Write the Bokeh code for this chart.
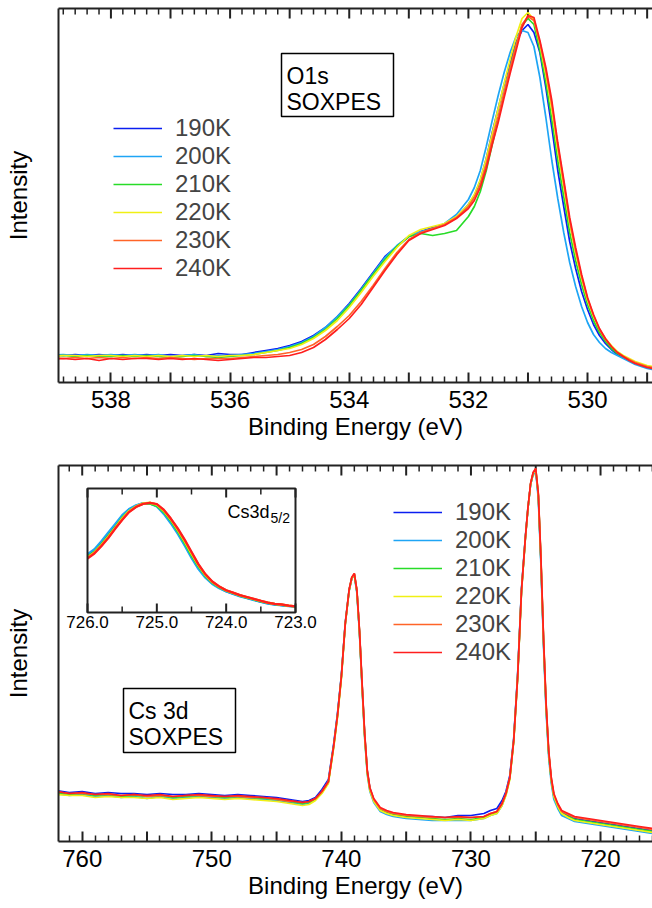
from bokeh.plotting import figure
from bokeh.models import (Range1d, LinearAxis, FixedTicker, Legend, LegendItem)
from bokeh.layouts import column
from bokeh.embed import file_html
from bokeh.resources import INLINE
from bokeh.core.properties import value

FONT = "Liberation Sans"

# ---------------- data ----------------
TEMPS = ["190K", "200K", "210K", "220K", "230K", "240K"]
COLORS = ["#0a1ef0", "#1ea5f5", "#28dc28", "#f0f014", "#ff6428", "#ff1e1e"]

# O 1s SOXPES (binding energy, eV) and intensities (arb. units)
O1S_E = [539.0, 538.8, 538.6, 538.4, 538.2, 538.0, 537.8, 537.6, 537.4, 537.2, 537.0,
         536.8, 536.6, 536.4, 536.2, 536.0, 535.8, 535.6, 535.4, 535.2, 535.0,
         534.8, 534.6, 534.4, 534.2, 534.0, 533.8, 533.6, 533.4, 533.2, 533.0,
         532.8, 532.6, 532.4, 532.2, 532.0,
         531.9, 531.8, 531.7, 531.6, 531.5, 531.4, 531.3, 531.2, 531.1, 531.0,
         530.9, 530.8, 530.7, 530.6, 530.5, 530.4, 530.3, 530.2, 530.1, 530.0,
         529.9, 529.8, 529.7, 529.6, 529.5, 529.4, 529.3, 529.2, 529.1, 529.0, 528.8]
O1S_190 = [28, 27, 28, 27, 28, 27, 28, 27, 28, 27, 28, 27, 28, 27, 29, 28, 28, 30, 32, 34, 37,
           41, 47, 55, 66, 79, 94, 110, 126, 136, 146, 151, 155, 158, 165, 178,
           187, 202, 224, 250, 274, 298, 320, 340, 352, 358, 350, 330, 295, 255, 212, 176, 141, 114, 91, 73,
           58, 47, 39, 33, 28, 25, 22, 19, 17, 15, 13]
O1S_200 = [27, 28, 27, 28, 27, 28, 27, 28, 27, 28, 26, 27, 28, 26, 27, 27, 28, 29, 31, 33, 36,
           40, 46, 55, 66, 78, 93, 109, 125, 137, 146, 151, 154, 159, 168, 183,
           195, 212, 236, 262, 287, 310, 330, 346, 352, 350, 336, 305, 265, 222, 184, 150, 120, 96, 76, 60,
           48, 40, 34, 30, 27, 24, 21, 18, 16, 14, 12]
O1S_210 = [26, 27, 26, 27, 26, 26, 27, 26, 27, 26, 25, 26, 27, 26, 25, 26, 27, 28, 30, 32, 35,
           39, 45, 53, 64, 77, 92, 108, 123, 136, 146, 149, 147, 149, 152, 166,
           176, 191, 212, 238, 263, 289, 314, 338, 357, 364, 358, 332, 300, 263, 222, 186, 150, 122, 98, 78,
           62, 50, 41, 34, 29, 26, 23, 20, 18, 16, 14]
O1S_220 = [26, 27, 27, 26, 27, 27, 26, 27, 26, 27, 26, 27, 26, 27, 26, 27, 27, 28, 30, 32, 34,
           38, 44, 52, 62, 75, 90, 106, 121, 135, 147, 153, 156, 159, 166, 178,
           188, 203, 224, 249, 274, 299, 323, 346, 364, 370, 363, 338, 308, 273, 232, 196, 159, 129, 104, 82,
           66, 53, 44, 37, 31, 27, 24, 21, 19, 17, 15]
O1S_230 = [25, 24, 25, 24, 25, 24, 25, 24, 25, 24, 25, 24, 23, 24, 24, 24, 25, 26, 27, 28, 30,
           33, 38, 46, 56, 67, 81, 97, 114, 130, 143, 150, 154, 158, 165, 176,
           185, 198, 218, 243, 266, 290, 314, 337, 358, 366, 362, 340, 312, 278, 237, 200, 162, 132, 106, 84,
           67, 53, 43, 36, 30, 26, 23, 20, 18, 16, 14]
O1S_240 = [23, 24, 23, 24, 22, 24, 23, 24, 24, 23, 24, 23, 24, 23, 22, 23, 24, 25, 25, 26, 27,
           30, 35, 43, 53, 64, 78, 95, 112, 128, 142, 149, 153, 157, 164, 174,
           182, 195, 214, 238, 260, 285, 309, 332, 355, 367, 365, 342, 315, 282, 240, 203, 165, 135, 108, 85,
           68, 54, 44, 36, 30, 26, 22, 19, 17, 15, 13]
O1S_SERIES = [O1S_190, O1S_200, O1S_210, O1S_220, O1S_230, O1S_240]

# O 1s axis ticks
O1S_TICK_LABELED = [530, 532, 534, 536, 538]
O1S_TICK_MAJOR = [529, 530, 531, 532, 533, 534, 535, 536, 537, 538]
O1S_TICK_MINOR = [t / 10 for t in range(5290, 5390, 2) if t % 10]

# Cs 3d SOXPES
CS_E = [762, 761, 760, 759, 758, 757, 756, 755, 754, 753, 752, 751, 750, 749, 748, 747, 746, 745, 744,
        743.5, 743, 742.5, 742, 741.5, 741,
        740.6, 740.3, 740.0, 739.7, 739.4, 739.2, 739.0, 738.8, 738.6, 738.4, 738.2, 738.0, 737.8,
        737.5, 737.0, 736.5,
        736, 735, 734, 733, 732, 731, 730, 729,
        728.5, 728, 727.6, 727.3, 727.0, 726.7, 726.4, 726.1, 725.8, 725.6, 725.4, 725.2, 725.0,
        724.8, 724.6, 724.4, 724.2, 724.0, 723.8, 723.6, 723.3, 723.0,
        722.5, 722, 721, 720, 719, 718, 717, 716]
CS_190 = [51, 49, 50, 48, 49, 48, 48, 47, 48, 47, 47, 48, 47, 46, 47, 46, 45, 44, 42,
          41, 40, 41, 44, 52, 62,
          97, 128, 166, 218, 251, 263, 267, 250, 209, 156, 106, 70, 53, 42, 33, 30,
          28, 26, 25, 25, 24, 26, 26, 28,
          31, 33, 41, 50, 66, 103, 166, 252, 304, 333, 357, 368, 371, 345, 280, 200, 134, 88, 61, 46, 36, 29,
          26, 23, 21, 19, 17, 15, 13, 11]
CS_200 = [48, 46, 47, 45, 46, 44, 45, 43, 45, 43, 44, 45, 44, 43, 44, 43, 42, 41, 39,
          38, 37, 38, 42, 49, 60,
          96, 127, 166, 219, 252, 263, 266, 248, 207, 153, 103, 67, 50, 39, 30, 27,
          25, 23, 22, 21, 21, 21, 21, 23,
          26, 28, 36, 47, 64, 102, 166, 253, 305, 334, 357, 367, 370, 342, 276, 196, 130, 84, 58, 42, 33, 26,
          23, 20, 18, 16, 14, 12, 10, 8]
CS_210 = [49, 47, 48, 46, 47, 45, 46, 45, 46, 44, 45, 46, 45, 44, 45, 44, 43, 42, 40,
          39, 38, 39, 42, 49, 59,
          94, 125, 164, 217, 251, 263, 267, 250, 209, 156, 106, 69, 52, 41, 32, 29,
          27, 25, 24, 23, 22, 23, 22, 24,
          27, 29, 37, 47, 63, 100, 163, 250, 303, 333, 357, 368, 372, 346, 281, 201, 135, 88, 61, 45, 35, 28,
          25, 22, 20, 18, 16, 14, 12, 10]
CS_220 = [47, 46, 46, 44, 45, 44, 44, 43, 44, 42, 43, 44, 43, 42, 43, 42, 41, 40, 38,
          37, 36, 37, 41, 48, 58,
          93, 124, 163, 217, 251, 263, 267, 250, 209, 155, 104, 68, 51, 40, 31, 28,
          26, 24, 23, 22, 21, 22, 21, 23,
          26, 28, 36, 46, 62, 100, 163, 250, 303, 333, 357, 368, 372, 346, 282, 202, 135, 88, 61, 45, 35, 28,
          24, 21, 19, 17, 15, 13, 11, 9]
CS_230 = [50, 48, 48, 47, 47, 46, 47, 45, 46, 45, 46, 46, 45, 45, 45, 44, 44, 42, 40,
          40, 39, 40, 43, 50, 60,
          95, 126, 165, 218, 252, 264, 268, 251, 210, 157, 107, 70, 53, 42, 33, 30,
          28, 26, 25, 24, 24, 24, 24, 25,
          28, 30, 38, 48, 64, 101, 164, 251, 304, 334, 358, 369, 373, 347, 283, 203, 137, 90, 63, 47, 37, 30,
          27, 24, 22, 20, 18, 16, 14, 12]
CS_240 = [50, 48, 49, 47, 48, 46, 47, 46, 47, 45, 46, 47, 46, 45, 46, 45, 44, 43, 41,
          40, 39, 40, 43, 50, 60,
          95, 126, 165, 218, 252, 264, 268, 251, 211, 158, 108, 71, 54, 43, 34, 31,
          29, 27, 26, 25, 24, 25, 24, 25,
          28, 30, 38, 48, 64, 101, 164, 251, 304, 334, 358, 369, 373, 348, 284, 204, 138, 91, 64, 48, 38, 31,
          28, 25, 23, 21, 19, 17, 15, 13]
CS_SERIES = [CS_190, CS_200, CS_210, CS_220, CS_230, CS_240]

# Cs 3d axis ticks
CS_TICK_LABELED = [720, 730, 740, 750, 760]
CS_TICK_MAJOR = [720, 725, 730, 735, 740, 745, 750, 755, 760]
CS_TICK_MINOR = [t for t in range(716, 762) if t % 5]

# Inset: Cs 3d5/2 (normalised)
INSET_E = [726.0, 725.9, 725.8, 725.7, 725.6, 725.5, 725.4, 725.3, 725.2, 725.1, 725.0,
           724.9, 724.8, 724.7, 724.6, 724.5, 724.4, 724.3, 724.2, 724.1, 724.0,
           723.9, 723.8, 723.7, 723.6, 723.5, 723.4, 723.3, 723.2, 723.1, 723.0]
IN_190 = [0.46, 0.50, 0.565, 0.635, 0.705, 0.775, 0.83, 0.86, 0.88, 0.882, 0.86, 0.805, 0.73, 0.645, 0.55, 0.45,
          0.36, 0.29, 0.235, 0.20, 0.172, 0.152, 0.133, 0.118, 0.103, 0.088, 0.075, 0.066, 0.06, 0.053, 0.05]
IN_200 = [0.47, 0.51, 0.575, 0.645, 0.715, 0.785, 0.835, 0.865, 0.882, 0.88, 0.855, 0.795, 0.72, 0.635, 0.54, 0.44,
          0.35, 0.28, 0.23, 0.195, 0.17, 0.15, 0.13, 0.115, 0.10, 0.085, 0.072, 0.063, 0.058, 0.052, 0.05]
IN_210 = [0.45, 0.49, 0.55, 0.62, 0.69, 0.765, 0.82, 0.855, 0.877, 0.878, 0.86, 0.81, 0.74, 0.655, 0.56, 0.46,
          0.37, 0.295, 0.24, 0.203, 0.175, 0.155, 0.136, 0.12, 0.105, 0.09, 0.077, 0.067, 0.061, 0.054, 0.05]
IN_220 = [0.445, 0.485, 0.545, 0.612, 0.685, 0.758, 0.818, 0.856, 0.88, 0.886, 0.87, 0.82, 0.75, 0.668, 0.575, 0.475,
          0.38, 0.302, 0.245, 0.207, 0.178, 0.158, 0.138, 0.123, 0.108, 0.093, 0.079, 0.069, 0.063, 0.055, 0.05]
IN_230 = [0.44, 0.48, 0.54, 0.605, 0.68, 0.75, 0.812, 0.852, 0.876, 0.884, 0.873, 0.826, 0.756, 0.675, 0.584, 0.484,
          0.386, 0.307, 0.248, 0.209, 0.179, 0.159, 0.139, 0.124, 0.109, 0.094, 0.08, 0.07, 0.064, 0.055, 0.05]
IN_240 = [0.435, 0.475, 0.535, 0.60, 0.675, 0.745, 0.81, 0.85, 0.875, 0.885, 0.875, 0.83, 0.76, 0.68, 0.59, 0.49,
          0.39, 0.31, 0.25, 0.21, 0.18, 0.16, 0.14, 0.125, 0.11, 0.095, 0.08, 0.07, 0.065, 0.055, 0.05]
INSET_SERIES = [IN_190, IN_200, IN_210, IN_220, IN_230, IN_240]

INSET_MAJOR = [726.0, 725.0, 724.0, 723.0]
INSET_LABELS = ["726.0", "725.0", "724.0", "723.0"]
INSET_MINOR = [725.5, 724.5, 723.5]

for s in O1S_SERIES:
    assert len(s) == len(O1S_E), len(s)
for s in CS_SERIES:
    assert len(s) == len(CS_E), len(s)
for s in INSET_SERIES:
    assert len(s) == len(INSET_E), len(s)

# ---------------- layout helpers ----------------
W = 652
FL, FW = 58, 594  # frame left / width in px
INK = "#222222"
MAJ_LEN, MIN_LEN = 10, 6


def px_x(rng, px):
    return rng.start + (px - FL) * (rng.end - rng.start) / FW


def px_y(rng, py, top, h):
    return rng.end - (py - top) * (rng.end - rng.start) / h


def make_fig(height, xr, yr, top, bottom, labeled, majors, minors):
    p = figure(width=W, height=height, x_range=xr, y_range=yr, output_backend="svg",
               toolbar_location=None, min_border_left=FL, min_border_right=0,
               min_border_top=top, min_border_bottom=bottom)
    p.grid.visible = False
    p.outline_line_color = None
    p.background_fill_color = "white"
    p.border_fill_color = "white"
    xa = p.xaxis[0]
    xa.ticker = FixedTicker(ticks=labeled, minor_ticks=minors)
    xa.major_tick_in = MAJ_LEN
    xa.major_tick_out = 0
    xa.minor_tick_in = MIN_LEN
    xa.minor_tick_out = 0
    xa.major_tick_line_width = 2
    xa.minor_tick_line_width = 1.5
    xa.major_tick_line_color = INK
    xa.minor_tick_line_color = INK
    xa.axis_line_width = 2
    xa.axis_line_color = INK
    xa.major_label_text_font = FONT
    xa.major_label_text_font_size = "24px"
    xa.major_label_text_color = "black"
    xa.major_label_standoff = 8
    xa.axis_label = "Binding Energy (eV)"
    xa.axis_label_text_font = FONT
    xa.axis_label_text_font_size = "24px"
    xa.axis_label_text_font_style = "normal"
    xa.axis_label_text_color = "black"
    xa.axis_label_standoff = 2
    # top frame line (no ticks/labels; ticks drawn below as glyphs)
    ta = LinearAxis(ticker=FixedTicker(ticks=[]), axis_line_width=2, axis_line_color=INK,
                    major_tick_line_color=None, minor_tick_line_color=None)
    p.add_layout(ta, "above")
    ya = p.yaxis[0]
    ya.ticker = FixedTicker(ticks=[])
    ya.major_tick_line_color = None
    ya.minor_tick_line_color = None
    ya.axis_line_width = 2
    ya.axis_line_color = INK
    ya.axis_label = "Intensity"
    ya.axis_label_text_font = FONT
    ya.axis_label_text_font_size = "24px"
    ya.axis_label_text_font_style = "normal"
    ya.axis_label_text_color = "black"
    ya.axis_label_standoff = 27
    # tick marks on the top edge, and unlabeled major ticks on the bottom edge
    y0, y1 = yr.start, yr.end
    upp = (y1 - y0) / (height - top - bottom)  # data units per pixel
    unl = [t for t in majors if t not in labeled]
    p.segment(x0=unl, x1=unl, y0=[y0] * len(unl), y1=[y0 + MAJ_LEN * upp] * len(unl),
              line_color=INK, line_width=2)
    p.segment(x0=majors, x1=majors, y0=[y1] * len(majors), y1=[y1 - MAJ_LEN * upp] * len(majors),
              line_color=INK, line_width=2)
    p.segment(x0=minors, x1=minors, y0=[y1] * len(minors), y1=[y1 - MIN_LEN * upp] * len(minors),
              line_color=INK, line_width=1.5)
    return p


def add_legend(p, renderers, x, y):
    items = [LegendItem(label=t, renderers=[r]) for t, r in zip(TEMPS, renderers)]
    lg = Legend(items=items, location=(x, y), border_line_color=None,
                background_fill_alpha=0, label_text_font=FONT, label_text_font_size="24px",
                glyph_width=49, glyph_height=28, label_height=28, spacing=0,
                padding=0, margin=0, label_standoff=13)
    p.add_layout(lg)


# ---------------- O 1s panel ----------------
X1 = Range1d(538.88, 528.91)
Y1 = Range1d(0, 374)
p1 = make_fig(450, X1, Y1, 8, 68, O1S_TICK_LABELED, O1S_TICK_MAJOR, O1S_TICK_MINOR)
rs = []
for s, c in zip(O1S_SERIES, COLORS):
    rs.append(p1.line(O1S_E, s, line_color=c, line_width=1.7))
add_legend(p1, rs, 113 - FL, 382 - 282)
p1.quad(left=px_x(X1, 281), right=px_x(X1, 393), top=px_y(Y1, 53, 8, 374), bottom=px_y(Y1, 116, 8, 374),
        fill_color="white", line_color="black", line_width=1.5)
p1.text(x=[px_x(X1, 286)] * 2, y=[px_y(Y1, 75, 8, 374), px_y(Y1, 101, 8, 374)],
        text=["O1s", "SOXPES"], text_font=value(FONT), text_font_size=value("23px"),
        text_baseline="alphabetic", text_align="left", text_color="black")

# ---------------- Cs 3d panel ----------------
X2 = Range1d(761.83, 715.99)
Y2 = Range1d(0, 376)
p2 = make_fig(458, X2, Y2, 15, 67, CS_TICK_LABELED, CS_TICK_MAJOR, CS_TICK_MINOR)
rs = []
for s, c in zip(CS_SERIES, COLORS):
    rs.append(p2.line(CS_E, s, line_color=c, line_width=1.7))
add_legend(p2, rs, 393 - FL, 841 - 666)
p2.quad(left=px_x(X2, 123), right=px_x(X2, 235), top=px_y(Y2, 688, 465, 376), bottom=px_y(Y2, 752, 465, 376),
        fill_color="white", line_color="black", line_width=1.5)
p2.text(x=[px_x(X2, 128)] * 2, y=[px_y(Y2, 710, 465, 376), px_y(Y2, 736, 465, 376)],
        text=["Cs 3d", "SOXPES"], text_font=value(FONT), text_font_size=value("23px"),
        text_baseline="alphabetic", text_align="left", text_color="black")

# inset, mapped through extra ranges: 726.0 -> px 87, 723.0 -> px 295, 0 -> py 612, 1 -> py 488
ix_per_px = (723.0 - 726.0) / (295 - 87)
ix0 = 726.0 + (FL - 87) * ix_per_px
iy_per_px = 1.0 / (612 - 488)
p2.extra_x_ranges = {"ix": Range1d(ix0, ix0 + FW * ix_per_px)}
p2.extra_y_ranges = {"iy": Range1d(-(841 - 612) * iy_per_px, (612 - 465) * iy_per_px)}
kw = dict(x_range_name="ix", y_range_name="iy")
p2.quad(left=INSET_MAJOR[0], right=INSET_MAJOR[-1], bottom=0, top=1, fill_color="white",
        line_color=None, **kw)
for s, c in zip(INSET_SERIES, COLORS):
    p2.line(INSET_E, s, line_color=c, line_width=2.2, **kw)
p2.quad(left=INSET_MAJOR[0], right=INSET_MAJOR[-1], bottom=0, top=1, fill_color=None,
        line_color=INK, line_width=2, **kw)
maj, mnr = 9 * iy_per_px, 6 * iy_per_px
p2.segment(x0=INSET_MAJOR, y0=[0] * 4, x1=INSET_MAJOR, y1=[maj] * 4, line_color=INK, line_width=2, **kw)
p2.segment(x0=INSET_MAJOR, y0=[1] * 4, x1=INSET_MAJOR, y1=[1 - maj] * 4, line_color=INK, line_width=2, **kw)
p2.segment(x0=INSET_MINOR, y0=[0] * 3, x1=INSET_MINOR, y1=[mnr] * 3, line_color=INK, line_width=1.5, **kw)
p2.segment(x0=INSET_MINOR, y0=[1] * 3, x1=INSET_MINOR, y1=[1 - mnr] * 3, line_color=INK, line_width=1.5, **kw)
p2.text(x=INSET_MAJOR, y=[-3 * iy_per_px] * 4, text=INSET_LABELS, text_font=value(FONT),
        text_font_size=value("17px"), text_align="center", text_baseline="top", text_color="black", **kw)


def ipx(px):
    return ix0 + (px - FL) * ix_per_px


p2.text(x=[ipx(269)], y=[(612 - 511) * iy_per_px], text=["Cs3d"], text_font=value(FONT),
        text_font_size=value("18px"), text_align="right", text_baseline="alphabetic", text_color="black", **kw)
p2.text(x=[ipx(270)], y=[(612 - 517) * iy_per_px], text=["5/2"], text_font=value(FONT),
        text_font_size=value("14px"), text_align="left", text_baseline="alphabetic", text_color="black", **kw)

layout = column(p1, p2, spacing=0)
open("out.html", "w").write(file_html(layout, INLINE))
